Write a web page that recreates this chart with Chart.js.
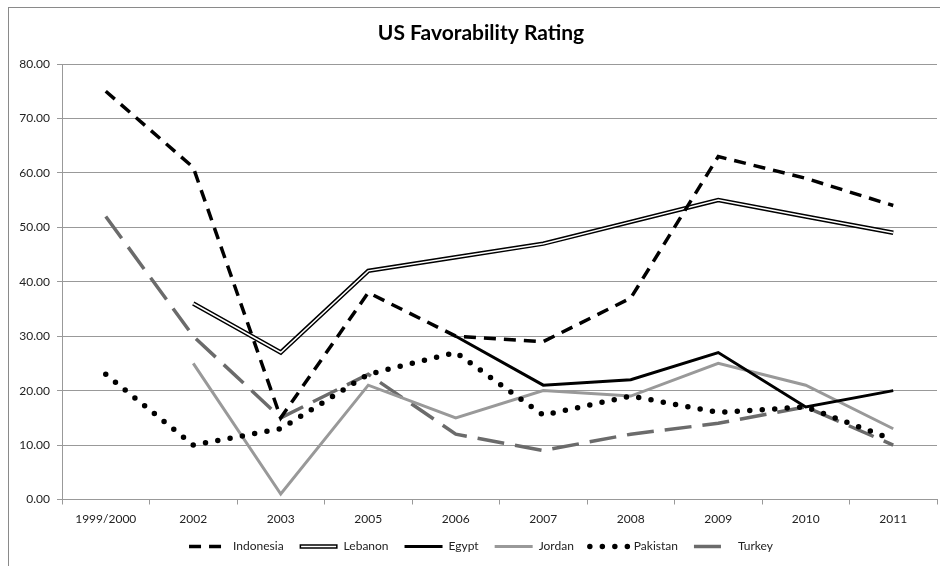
<!DOCTYPE html>
<html lang="en">
<head>
    <meta charset="UTF-8">
    <title>US Favorability Rating</title>
    <script src="https://cdn.jsdelivr.net/npm/chart.js"></script>
    <style>
        body {
            margin: 0;
            background-color: #fff;
            overflow: hidden;
        }
        .wrap {
            position: relative;
            width: 962px;
            height: 566px;
        }
        .frame {
            position: absolute;
            left: 8px;
            top: 7px;
            width: 1000px;
            height: 700px;
            border-left: 1px solid #8a8a8a;
            border-top: 1px solid #8a8a8a;
        }
        canvas {
            position: absolute;
            left: 0;
            top: 0;
        }
    </style>
</head>
<body>
    <div class="wrap">
        <div class="frame"></div>
        <canvas id="favChart" width="962" height="566"></canvas>
    </div>
    <script>
        // chart data
        const years = ['1999/2000', '2002', '2003', '2005', '2006', '2007', '2008', '2009', '2010', '2011'];
        const indonesia = [75, 61, 15, 38, 30, 29, 37, 63, 59, 54];
        const lebanon = [null, 36, 27, 42, 44.5, 47, 51, 55, 52, 49];
        const egypt = [null, null, null, null, 30, 21, 22, 27, 17, 20];
        const jordan = [null, 25, 1, 21, 15, 20, 19, 25, 21, 13];
        const pakistan = [23, 10, 13, 23, 27, 15.5, 19, 16, 17, 11];
        const turkey = [52, 30, 15, 23, 12, 9, 12, 14, 17, 10];

        const FONT = 'Lato';

        // white core drawn over Lebanon's legend line so it looks doubled
        const doubleLegend = {
            id: 'doubleLegend',
            afterDraw(chart) {
                const legend = chart.legend;
                if (!legend || !legend.legendHitBoxes[1]) return;
                const box = legend.legendHitBoxes[1];
                const w = legend.options.labels.pointStyleWidth;
                const y = box.top + legend.options.labels.font.size / 2;
                const ctx = chart.ctx;
                ctx.save();
                ctx.strokeStyle = '#fff';
                ctx.lineWidth = 1.5;
                ctx.beginPath();
                ctx.moveTo(box.left + 1.5, y);
                ctx.lineTo(box.left + w - 1.5, y);
                ctx.stroke();
                ctx.restore();
            }
        };

        // legend entries in dataset order, with each line's own dash and width
        function legendLabels(chart) {
            return chart.data.datasets.map((ds, i) => ({
                text: ds.label,
                datasetIndex: i,
                fillStyle: ds.borderColor,
                strokeStyle: ds.borderColor,
                fontColor: '#222',
                lineWidth: ds.borderWidth,
                lineDash: ds.borderDash || [],
                lineCap: ds.borderCapStyle || 'butt',
                pointStyle: 'line',
                hidden: false
            })).filter(item => item.datasetIndex !== 6);
        }

        const ctx = document.getElementById('favChart').getContext('2d');
        const favChart = new Chart(ctx, {
            type: 'line',
            data: {
                labels: years,
                datasets: [
                    {
                        label: 'Indonesia',
                        data: indonesia,
                        borderColor: '#000',
                        backgroundColor: '#000',
                        borderWidth: 3.5,
                        borderDash: [12, 8],
                        order: 1
                    },
                    {
                        label: 'Lebanon',
                        data: lebanon,
                        borderColor: '#000',
                        backgroundColor: '#fff',
                        borderWidth: 4.5,
                        order: 4
                    },
                    {
                        label: 'Egypt',
                        data: egypt,
                        borderColor: '#000',
                        backgroundColor: '#000',
                        borderWidth: 3,
                        order: 2
                    },
                    {
                        label: 'Jordan',
                        data: jordan,
                        borderColor: '#999',
                        backgroundColor: '#999',
                        borderWidth: 3,
                        order: 5
                    },
                    {
                        label: 'Pakistan',
                        data: pakistan,
                        borderColor: '#000',
                        backgroundColor: '#000',
                        borderWidth: 5.5,
                        borderDash: [0, 12.5],
                        borderCapStyle: 'round',
                        order: 1.5
                    },
                    {
                        label: 'Turkey',
                        data: turkey,
                        borderColor: '#6b6b6b',
                        backgroundColor: '#6b6b6b',
                        borderWidth: 3.5,
                        borderDash: [27, 11],
                        order: 6
                    },
                    {
                        // inner white stroke of Lebanon's double line
                        label: 'Lebanon-inner',
                        data: lebanon,
                        borderColor: '#fff',
                        borderWidth: 1.5,
                        order: 3.5
                    }
                ]
            },
            options: {
                responsive: false,
                animation: false,
                layout: { padding: { left: 0, right: 0, top: 0, bottom: 3.5 } },
                elements: {
                    point: { radius: 0, hoverRadius: 0 },
                    line: { tension: 0 }
                },
                plugins: {
                    title: {
                        display: true,
                        text: 'US Favorability Rating',
                        color: '#000',
                        font: { family: FONT, size: 21, weight: 'bold' },
                        padding: { top: 20.4, bottom: 18.4 }
                    },
                    legend: {
                        position: 'bottom',
                        labels: {
                            usePointStyle: true,
                            pointStyle: 'line',
                            pointStyleWidth: 38,
                            padding: 16,
                            color: '#222',
                            font: { family: FONT, size: 12 },
                            generateLabels: legendLabels
                        }
                    },
                    tooltip: { enabled: false }
                },
                scales: {
                    x: {
                        offset: true,
                        grid: {
                            offset: true,
                            drawOnChartArea: false,
                            tickLength: 5,
                            color: '#999'
                        },
                        border: { color: '#999' },
                        ticks: {
                            color: '#222',
                            padding: 7,
                            maxRotation: 0,
                            font: { family: FONT, size: 12 }
                        },
                        afterFit: s => { s.height = 25; }
                    },
                    y: {
                        min: 0,
                        max: 80,
                        grid: { color: '#999', tickLength: 5 },
                        border: { color: '#999' },
                        ticks: {
                            stepSize: 10,
                            color: '#222',
                            padding: 7,
                            font: { family: FONT, size: 12 },
                            callback: v => v.toFixed(2)
                        },
                        afterFit: s => { s.width = 62; }
                    },
                    spacer: {
                        type: 'linear',
                        position: 'right',
                        grid: { display: false },
                        border: { display: false },
                        ticks: { display: false },
                        afterFit: s => { s.width = 25; }
                    }
                }
            },
            plugins: [doubleLegend]
        });
    </script>
</body>
</html>
